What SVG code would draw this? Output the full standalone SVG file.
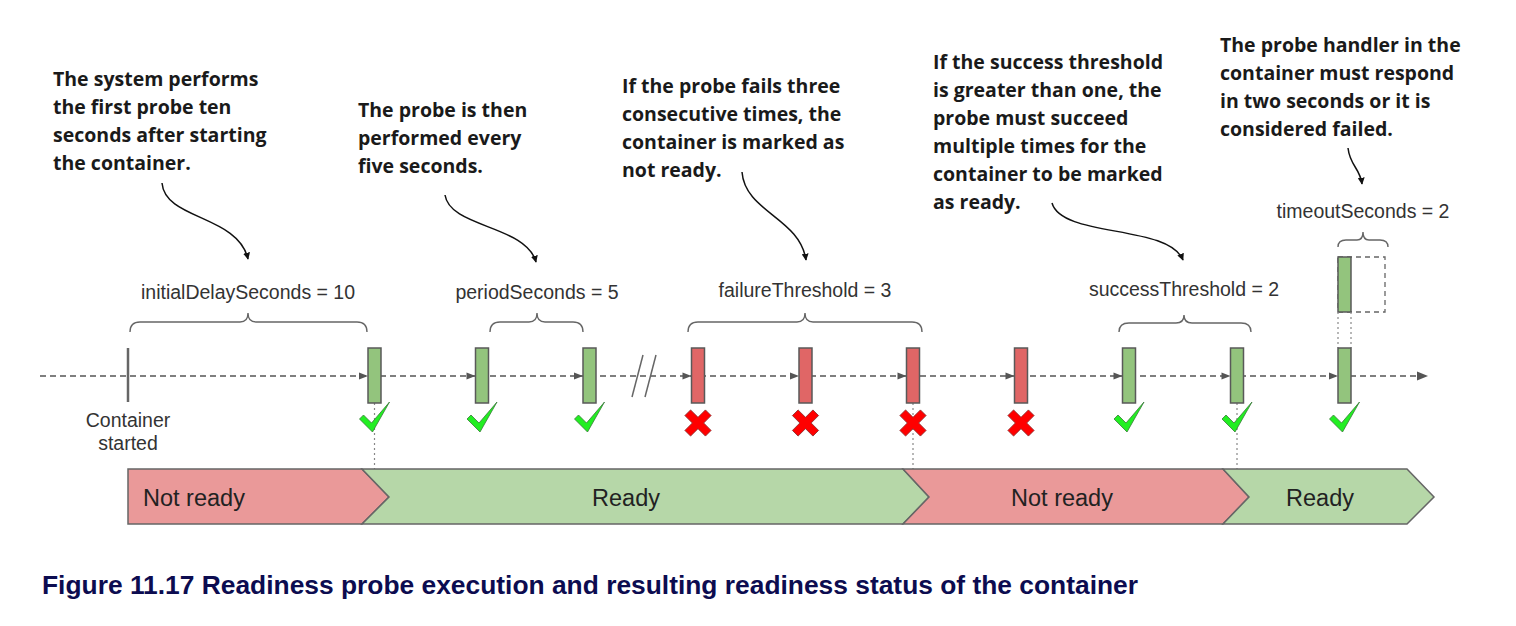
<svg xmlns="http://www.w3.org/2000/svg" width="1516" height="626" viewBox="0 0 1516 626">
<defs>
<style>
.ann{font-family:"Open Sans","Liberation Sans",sans-serif;font-weight:700;font-size:19.5px;fill:#1a1a1a}
.lbl{font-family:"Liberation Sans",Arial,sans-serif;font-size:19.5px;fill:#333}
.bar{font-family:"Liberation Sans",Arial,sans-serif;font-size:23.5px;fill:#222}
.brace{fill:none;stroke:#666;stroke-width:1.4}
.curve{fill:none;stroke:#111;stroke-width:1.5}
.okp{fill:#93c47d;stroke:#595959;stroke-width:1.5}
.badp{fill:#e06666;stroke:#595959;stroke-width:1.5}
.dot{stroke:#888;stroke-width:1.2;stroke-dasharray:2,3}
.ah{fill:#555}
.check{fill:#22ee22;stroke:#3a7a3a;stroke-width:0.8;stroke-linejoin:round}
.cross{fill:#ff0000;stroke:#8a2a2a;stroke-width:0.8}
</style>
<marker id="arr" viewBox="0 0 10 10" refX="9" refY="5" markerWidth="7" markerHeight="7" orient="auto-start-reverse" markerUnits="userSpaceOnUse">
<path d="M0,0 L10,5 L0,10 z" fill="#111"/>
</marker>
<path id="chk" d="M-15,16 L-11,12 L-3,20 L15,-1 L-2,29 Z"/>
<path id="xm" d="M-4,-14.5 H4 V-4 H14.5 V4 H4 V14.5 H-4 V4 H-14.5 V-4 H-4 Z"/>
</defs>
<rect width="1516" height="626" fill="#fff"/>

<!-- annotations -->
<g id="ann-initial">
<text class="ann" x="53" y="86">The system performs</text>
<text class="ann" x="53" y="114">the first probe ten</text>
<text class="ann" x="53" y="142">seconds after starting</text>
<text class="ann" x="53" y="170">the container.</text>
</g>
<g id="ann-period">
<text class="ann" x="358" y="117">The probe is then</text>
<text class="ann" x="358" y="145">performed every</text>
<text class="ann" x="358" y="173">five seconds.</text>
</g>
<g id="ann-failure">
<text class="ann" x="622" y="93">If the probe fails three</text>
<text class="ann" x="622" y="121">consecutive times, the</text>
<text class="ann" x="622" y="149">container is marked as</text>
<text class="ann" x="622" y="177">not ready.</text>
</g>
<g id="ann-success">
<text class="ann" x="933" y="69">If the success threshold</text>
<text class="ann" x="933" y="97">is greater than one, the</text>
<text class="ann" x="933" y="125">probe must succeed</text>
<text class="ann" x="933" y="153">multiple times for the</text>
<text class="ann" x="933" y="181">container to be marked</text>
<text class="ann" x="933" y="209">as ready.</text>
</g>
<g id="ann-timeout">
<text class="ann" x="1220" y="52">The probe handler in the</text>
<text class="ann" x="1220" y="80">container must respond</text>
<text class="ann" x="1220" y="108">in two seconds or it is</text>
<text class="ann" x="1220" y="136">considered failed.</text>
</g>

<!-- parameter labels and braces -->
<g id="param-initial">
<text class="lbl" x="248" y="299" text-anchor="middle">initialDelaySeconds = 10</text>
<path class="brace" d="M130,332 Q130,322 140,322 L240,322 Q248,322 248,313 Q248,322 256,322 L357,322 Q367,322 367,332"/>
</g>
<g id="param-period">
<text class="lbl" x="537" y="299" text-anchor="middle">periodSeconds = 5</text>
<path class="brace" d="M490,332 Q490,322 500,322 L529,322 Q537,322 537,313 Q537,322 545,322 L573,322 Q583,322 583,332"/>
</g>
<g id="param-failure">
<text class="lbl" x="805" y="297" text-anchor="middle">failureThreshold = 3</text>
<path class="brace" d="M688,332 Q688,322 698,322 L797,322 Q805,322 805,313 Q805,322 813,322 L912,322 Q922,322 922,332"/>
</g>
<g id="param-success">
<text class="lbl" x="1184" y="296" text-anchor="middle">successThreshold = 2</text>
<path class="brace" d="M1119,332 Q1119,323 1129,323 L1176,323 Q1184,323 1184,315 Q1184,323 1192,323 L1241,323 Q1251,323 1251,332"/>
</g>
<g id="param-timeout">
<text class="lbl" x="1363" y="218" text-anchor="middle">timeoutSeconds = 2</text>
<path class="brace" d="M1338,247 Q1338,240 1346,240 L1357,240 Q1363,240 1363,232 Q1363,240 1369,240 L1380,240 Q1388,240 1388,247"/>
<rect x="1338" y="257" width="47" height="55" fill="none" stroke="#666" stroke-width="1.3" stroke-dasharray="5,4"/>
<rect class="okp" x="1338" y="257" width="13" height="55"/>
</g>

<!-- connectors -->
<g id="connectors">
<path class="curve" marker-end="url(#arr)" d="M162,183 C165,220 238,215 248,259"/>
<path class="curve" marker-end="url(#arr)" d="M445,195 C450,228 526,225 536,262"/>
<path class="curve" marker-end="url(#arr)" d="M742,172 C745,212 800,218 806,260"/>
<path class="curve" marker-end="url(#arr)" d="M1052,203 C1062,238 1168,224 1183,260"/>
<path class="curve" marker-end="url(#arr)" d="M1348,148 C1350,166 1360,168 1362,184"/>
<!-- timeline axis -->
<line x1="40" y1="376" x2="1420" y2="376" stroke="#555" stroke-width="1.5" stroke-dasharray="6,4"/>
<path class="ah" d="M1428,376 L1417,371.5 L1417,380.5 Z"/>
<path class="ah" d="M368,376 L359,372.5 L359,379.5 Z"/>
<path class="ah" d="M475.5,376 L466.5,372.5 L466.5,379.5 Z"/>
<path class="ah" d="M583,376 L574,372.5 L574,379.5 Z"/>
<path class="ah" d="M691.5,376 L682.5,372.5 L682.5,379.5 Z"/>
<path class="ah" d="M799,376 L790,372.5 L790,379.5 Z"/>
<path class="ah" d="M906.5,376 L897.5,372.5 L897.5,379.5 Z"/>
<path class="ah" d="M1014.5,376 L1005.5,372.5 L1005.5,379.5 Z"/>
<path class="ah" d="M1122.5,376 L1113.5,372.5 L1113.5,379.5 Z"/>
<path class="ah" d="M1230.5,376 L1221.5,372.5 L1221.5,379.5 Z"/>
<path class="ah" d="M1338,376 L1329,372.5 L1329,379.5 Z"/>
<!-- break marks -->
<line x1="643" y1="355" x2="632" y2="397" stroke="#666" stroke-width="1.5"/>
<line x1="656" y1="355" x2="645" y2="397" stroke="#666" stroke-width="1.5"/>
<!-- dotted guides -->
<line class="dot" x1="374.5" y1="403" x2="374.5" y2="469"/>
<line class="dot" x1="913" y1="403" x2="913" y2="469"/>
<line class="dot" x1="1237" y1="403" x2="1237" y2="469"/>
<line class="dot" x1="1338" y1="312" x2="1338" y2="348"/>
<line class="dot" x1="1351" y1="312" x2="1351" y2="348"/>
</g>

<!-- container start -->
<g id="container-start">
<line x1="128" y1="348" x2="128" y2="402" stroke="#666" stroke-width="2.5"/>
<text class="lbl" x="128" y="427" text-anchor="middle">Container</text>
<text class="lbl" x="128" y="450" text-anchor="middle">started</text>
</g>

<!-- probes -->
<g id="probe-1"><rect class="okp" x="368" y="348" width="13" height="55"/><use href="#chk" class="check" x="374.5" y="403"/></g>
<g id="probe-2"><rect class="okp" x="475.5" y="348" width="13" height="55"/><use href="#chk" class="check" x="482" y="403"/></g>
<g id="probe-3"><rect class="okp" x="583" y="348" width="13" height="55"/><use href="#chk" class="check" x="589.5" y="403"/></g>
<g id="probe-4"><rect class="badp" x="691.5" y="348" width="13" height="55"/><use href="#xm" class="cross" transform="translate(698,423) rotate(45)"/></g>
<g id="probe-5"><rect class="badp" x="799" y="348" width="13" height="55"/><use href="#xm" class="cross" transform="translate(805.5,423) rotate(45)"/></g>
<g id="probe-6"><rect class="badp" x="906.5" y="348" width="13" height="55"/><use href="#xm" class="cross" transform="translate(913,423) rotate(45)"/></g>
<g id="probe-7"><rect class="badp" x="1014.5" y="348" width="13" height="55"/><use href="#xm" class="cross" transform="translate(1021,423) rotate(45)"/></g>
<g id="probe-8"><rect class="okp" x="1122.5" y="348" width="13" height="55"/><use href="#chk" class="check" x="1129" y="403"/></g>
<g id="probe-9"><rect class="okp" x="1230.5" y="348" width="13" height="55"/><use href="#chk" class="check" x="1237" y="403"/></g>
<g id="probe-10"><rect class="okp" x="1338" y="348" width="13" height="55"/><use href="#chk" class="check" x="1344.5" y="403"/></g>

<!-- status bar -->
<g id="status-notready-1">
<path d="M128,469 L362,469 L389,497 L362,524 L128,524 Z" fill="#ea9999" stroke="#666" stroke-width="1.5"/>
<text class="bar" x="143" y="506">Not ready</text>
</g>
<g id="status-ready-1">
<path d="M362,469 L903,469 L929,497 L903,524 L362,524 L389,497 Z" fill="#b6d7a8" stroke="#666" stroke-width="1.5"/>
<text class="bar" x="626" y="506" text-anchor="middle">Ready</text>
</g>
<g id="status-notready-2">
<path d="M903,469 L1223,469 L1249,497 L1223,524 L903,524 L929,497 Z" fill="#ea9999" stroke="#666" stroke-width="1.5"/>
<text class="bar" x="1062" y="506" text-anchor="middle">Not ready</text>
</g>
<g id="status-ready-2">
<path d="M1223,469 L1407,469 L1434,497 L1407,524 L1223,524 L1249,497 Z" fill="#b6d7a8" stroke="#666" stroke-width="1.5"/>
<text class="bar" x="1320" y="506" text-anchor="middle">Ready</text>
</g>

<text x="42" y="594" font-family="'Liberation Sans',Arial,sans-serif" font-weight="700" font-size="26" fill="#0c0c50" textLength="1096" lengthAdjust="spacingAndGlyphs">Figure 11.17 Readiness probe execution and resulting readiness status of the container</text>
</svg>
